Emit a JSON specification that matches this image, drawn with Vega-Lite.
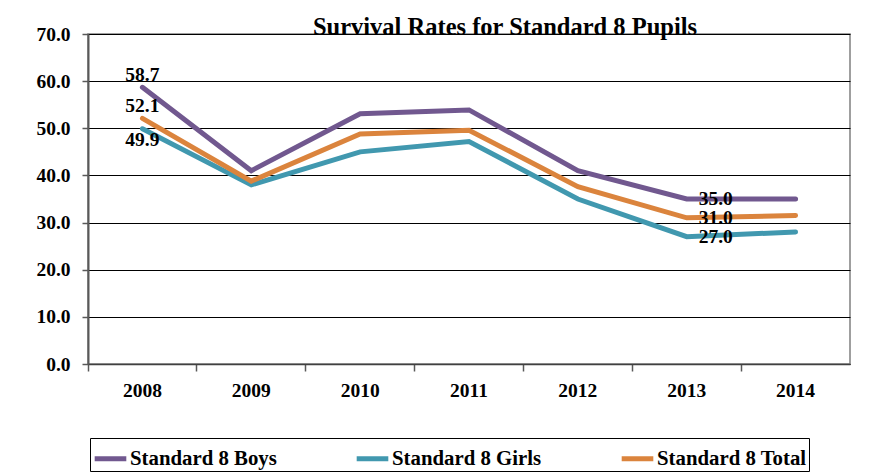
{
  "$schema": "https://vega.github.io/schema/vega-lite/v6.json",
  "autosize": {"type": "none"},
  "padding": {"left": 88, "top": 34, "right": 25, "bottom": 108},
  "width": 762,
  "height": 330,
  "background": "white",
  "title": {
    "text": "Survival Rates for Standard 8 Pupils",
    "font": "Times New Roman, Liberation Serif, serif",
    "fontSize": 24.5,
    "fontWeight": "bold",
    "color": "black",
    "anchor": "middle",
    "baseline": "alphabetic",
    "offset": 0,
    "dx": 36,
    "dy": 35
  },
  "config": {
    "view": {"stroke": "#808080", "strokeWidth": 1.5},
    "font": "Times New Roman, Liberation Serif, serif"
  },
  "data": {
    "values": [
      {"year": "2008", "series": "Standard 8 Boys", "value": 58.7},
      {"year": "2009", "series": "Standard 8 Boys", "value": 41.0},
      {"year": "2010", "series": "Standard 8 Boys", "value": 53.1},
      {"year": "2011", "series": "Standard 8 Boys", "value": 53.9},
      {"year": "2012", "series": "Standard 8 Boys", "value": 41.0},
      {"year": "2013", "series": "Standard 8 Boys", "value": 35.0},
      {"year": "2014", "series": "Standard 8 Boys", "value": 35.0},
      {"year": "2008", "series": "Standard 8 Girls", "value": 49.9},
      {"year": "2009", "series": "Standard 8 Girls", "value": 38.0},
      {"year": "2010", "series": "Standard 8 Girls", "value": 45.0},
      {"year": "2011", "series": "Standard 8 Girls", "value": 47.2},
      {"year": "2012", "series": "Standard 8 Girls", "value": 35.0},
      {"year": "2013", "series": "Standard 8 Girls", "value": 27.0},
      {"year": "2014", "series": "Standard 8 Girls", "value": 28.0},
      {"year": "2008", "series": "Standard 8 Total", "value": 52.1},
      {"year": "2009", "series": "Standard 8 Total", "value": 38.8},
      {"year": "2010", "series": "Standard 8 Total", "value": 48.8},
      {"year": "2011", "series": "Standard 8 Total", "value": 49.6},
      {"year": "2012", "series": "Standard 8 Total", "value": 37.6},
      {"year": "2013", "series": "Standard 8 Total", "value": 31.0},
      {"year": "2014", "series": "Standard 8 Total", "value": 31.5}
    ]
  },
  "encoding": {
    "x": {
      "field": "year",
      "type": "nominal",
      "bandPosition": 0.5,
      "scale": {"type": "band", "paddingInner": 0, "paddingOuter": 0},
      "axis": {
        "title": null,
        "labelAngle": 0,
        "labelFont": "Times New Roman, Liberation Serif, serif",
        "labelFontSize": 19.5,
        "labelFontWeight": "bold",
        "labelColor": "black",
        "labelPadding": 10,
        "bandPosition": 0,
        "tickSize": 7,
        "tickColor": "#595959",
        "tickWidth": 1.5,
        "domainColor": "#404040",
        "domainWidth": 1.5,
        "grid": false
      }
    },
    "y": {
      "field": "value",
      "type": "quantitative",
      "scale": {"domain": [0, 70], "nice": false},
      "axis": {
        "title": null,
        "values": [0, 10, 20, 30, 40, 50, 60, 70],
        "format": ".1f",
        "labelFont": "Times New Roman, Liberation Serif, serif",
        "labelFontSize": 19.5,
        "labelFontWeight": "bold",
        "labelColor": "black",
        "labelPadding": 12,
        "tickSize": 6,
        "tickColor": "#595959",
        "tickWidth": 1.5,
        "domainColor": "#595959",
        "domainWidth": 2,
        "grid": true,
        "gridColor": "#000000",
        "gridWidth": 1,
        "gridOpacity": 1
      }
    }
  },
  "layer": [
    {
      "mark": {"type": "line", "strokeWidth": 5, "strokeCap": "round"},
      "encoding": {
        "color": {
          "field": "series",
          "type": "nominal",
          "scale": {
            "domain": ["Standard 8 Boys", "Standard 8 Girls", "Standard 8 Total"],
            "range": ["#71588F", "#4198AF", "#DB843D"]
          },
          "legend": {
            "title": null,
            "orient": "none",
            "legendX": 2,
            "legendY": 404,
            "direction": "horizontal",
            "symbolType": "stroke",
            "symbolStrokeWidth": 5,
            "symbolSize": 1000,
            "labelFont": "Times New Roman, Liberation Serif, serif",
            "labelFontSize": 20.8,
            "labelFontWeight": "bold",
            "labelColor": "black",
            "labelOffset": 1,
            "columnPadding": 69,
            "labelLimit": 300,
            "padding": 2,
            "strokeColor": "#000000"
          }
        }
      }
    },
    {
      "transform": [{"filter": "datum.year == '2008' && datum.series != 'Standard 8 Girls'"}],
      "mark": {"type": "text", "font": "Times New Roman, Liberation Serif, serif", "fontSize": 19.5, "fontWeight": "bold", "color": "black", "baseline": "middle", "dy": -12},
      "encoding": {"text": {"field": "value", "type": "quantitative", "format": ".1f"}}
    },
    {
      "transform": [{"filter": "datum.year == '2008' && datum.series == 'Standard 8 Girls'"}],
      "mark": {"type": "text", "font": "Times New Roman, Liberation Serif, serif", "fontSize": 19.5, "fontWeight": "bold", "color": "black", "baseline": "middle", "dy": 11},
      "encoding": {"text": {"field": "value", "type": "quantitative", "format": ".1f"}}
    },
    {
      "transform": [{"filter": "datum.year == '2013'"}],
      "mark": {"type": "text", "font": "Times New Roman, Liberation Serif, serif", "fontSize": 19.5, "fontWeight": "bold", "color": "black", "baseline": "middle", "align": "left", "dx": 12},
      "encoding": {"text": {"field": "value", "type": "quantitative", "format": ".1f"}}
    }
  ]
}
